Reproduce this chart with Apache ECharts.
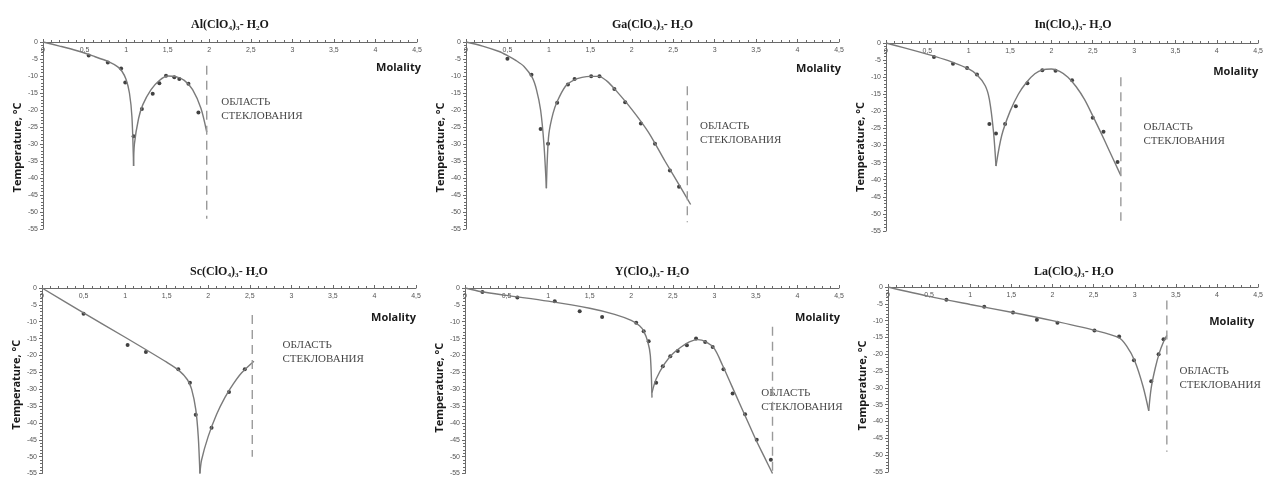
<!DOCTYPE html>
<html>
<head>
<meta charset="utf-8">
<script src="https://cdn.jsdelivr.net/npm/echarts@6/dist/echarts.min.js"></script>
<style>
html,body{margin:0;padding:0;background:#fff;}
#chart{width:1266px;height:477px;}
</style>
</head>
<body>
<div id="chart"></div>
<script>
// ---------- axis ticks ----------
var xTicks = [0, 0.5, 1, 1.5, 2, 2.5, 3, 3.5, 4, 4.5];
var yTicks = [0, -5, -10, -15, -20, -25, -30, -35, -40, -45, -50, -55];

// ---------- titles ----------
var titles = ['Al(ClO₄)₃- H₂O', 'Ga(ClO₄)₃- H₂O', 'In(ClO₄)₃- H₂O',
              'Sc(ClO₄)₃- H₂O', 'Y(ClO₄)₃- H₂O', 'La(ClO₄)₃- H₂O'];
var glassText = 'ОБЛАСТЬ\nСТЕКЛОВАНИЯ';
var xName = 'Molality';
var yName = 'Temperature, °C';

// ---------- Al(ClO4)3 ----------
var alCurve1 = [[0,0],[0.2,-1.2],[0.4,-2.5],[0.6,-4.1],[0.8,-5.9],[0.9,-7.3],[0.95,-8.6],[1.0,-11],[1.04,-15],[1.07,-22],[1.09,-36.5]];
var alCurve2 = [[1.09,-36.5],[1.1,-30],[1.15,-22.5],[1.2,-18.5],[1.3,-14],[1.4,-11.3],[1.5,-10],[1.6,-10.2],[1.7,-11.3],[1.8,-14],[1.9,-19.5],[1.97,-26.5]];
var alPoints = [[0.55,-4],[0.78,-6],[0.94,-7.8],[0.99,-11.9],[1.09,-27.7],[1.19,-19.7],[1.32,-15.2],[1.40,-12.1],[1.48,-9.9],[1.58,-10.4],[1.64,-10.9],[1.75,-12.3],[1.87,-20.7]];
var alGlass = [[1.97,-7],[1.97,-52]];
var alText = [2.15,-15.8];

// ---------- Ga(ClO4)3 ----------
var gaCurve1 = [[0,0],[0.2,-1.2],[0.4,-2.8],[0.5,-4],[0.6,-5.4],[0.7,-7.2],[0.8,-10.5],[0.85,-14],[0.9,-20],[0.94,-30],[0.97,-43]];
var gaCurve2 = [[0.97,-43],[0.98,-35],[1.0,-27],[1.05,-21],[1.1,-17.5],[1.2,-13],[1.3,-11.2],[1.4,-10.4],[1.5,-10.1],[1.6,-10.1],[1.7,-11.5],[1.8,-14],[2.0,-19.8],[2.2,-26.5],[2.4,-35],[2.6,-43.2],[2.71,-47.8]];
var gaPoints = [[0.5,-4.9],[0.79,-9.6],[0.90,-25.6],[0.99,-29.9],[1.10,-17.9],[1.23,-12.5],[1.31,-10.9],[1.51,-10.1],[1.61,-10.1],[1.79,-13.8],[1.92,-17.7],[2.11,-24],[2.28,-29.9],[2.46,-37.8],[2.57,-42.6]];
var gaGlass = [[2.67,-13],[2.67,-53]];
var gaText = [2.83,-22.7];

// ---------- In(ClO4)3 ----------
var inCurve1 = [[0,0],[0.2,-1.3],[0.4,-2.6],[0.6,-4],[0.8,-5.6],[1.0,-7.6],[1.1,-9.3],[1.2,-12.5],[1.25,-16.5],[1.3,-26],[1.33,-36]];
var inCurve2 = [[1.33,-36],[1.4,-27],[1.5,-20],[1.6,-15],[1.7,-11.5],[1.8,-9],[1.9,-7.8],[2.0,-7.6],[2.1,-8.3],[2.2,-10],[2.3,-12.8],[2.4,-16.5],[2.5,-21.3],[2.6,-26.3],[2.7,-31.5],[2.84,-38.8]];
var inPoints = [[0.58,-4.1],[0.81,-6.1],[0.98,-7.3],[1.10,-9.2],[1.25,-23.7],[1.33,-26.5],[1.44,-23.7],[1.57,-18.5],[1.71,-11.8],[1.89,-8],[2.05,-8.1],[2.25,-10.9],[2.50,-21.9],[2.63,-26],[2.80,-34.8]];
var inGlass = [[2.84,-10],[2.84,-52]];
var inText = [3.12,-22.8];

// ---------- Sc(ClO4)3 ----------
var scCurve1 = [[0,0],[0.5,-7.4],[1.0,-14.6],[1.5,-22],[1.65,-24.5],[1.75,-27.2],[1.8,-30],[1.85,-36],[1.88,-44],[1.9,-55]];
var scCurve2 = [[1.9,-55],[1.92,-51],[2.0,-44],[2.1,-37.5],[2.2,-32.5],[2.3,-28.5],[2.4,-25.2],[2.55,-21.7]];
var scPoints = [[0.50,-7.6],[1.03,-16.9],[1.25,-19],[1.64,-24.1],[1.78,-28.1],[1.85,-37.6],[2.04,-41.4],[2.25,-30.8],[2.44,-24.1]];
var scGlass = [[2.53,-8],[2.53,-50]];
var scText = [2.90,-15.1];

// ---------- Y(ClO4)3 ----------
var yCurve1 = [[0,0],[0.2,-1.1],[0.5,-2.2],[1.0,-3.9],[1.5,-6],[1.8,-7.8],[2.0,-9.6],[2.1,-11.2],[2.15,-12.8],[2.2,-16],[2.23,-20],[2.25,-32.5]];
var yCurve2 = [[2.25,-31],[2.3,-27],[2.4,-22.5],[2.5,-19.5],[2.6,-17.5],[2.7,-16],[2.8,-15.3],[2.9,-16],[3.0,-18],[3.1,-23],[3.2,-28.5],[3.3,-34],[3.4,-39.5],[3.5,-45],[3.6,-50],[3.7,-55]];
var yPoints = [[0.21,-1.2],[0.63,-2.8],[1.08,-3.9],[1.38,-6.9],[1.65,-8.6],[2.06,-10.3],[2.15,-12.8],[2.21,-15.8],[2.30,-28.1],[2.38,-23.2],[2.47,-20.2],[2.56,-18.7],[2.67,-17],[2.78,-15],[2.89,-16],[2.98,-17.5],[3.11,-24.1],[3.22,-31.3],[3.37,-37.4],[3.51,-45],[3.68,-50.9]];
var yGlass = [[3.70,-11.5],[3.70,-55]];
var yText = [3.57,-29.2];

// ---------- La(ClO4)3 ----------
var laCurve1 = [[0,0],[0.5,-2.8],[1.0,-5.2],[1.5,-7.5],[2.0,-10],[2.5,-12.8],[2.8,-15],[2.9,-17.5],[3.0,-22],[3.1,-29.5],[3.17,-36.8]];
var laCurve2 = [[3.17,-36.8],[3.2,-30],[3.25,-24],[3.3,-19.5],[3.35,-16.3],[3.39,-14.4]];
var laPoints = [[0.71,-3.8],[1.17,-5.9],[1.52,-7.6],[1.81,-9.7],[2.06,-10.6],[2.51,-12.9],[2.81,-14.7],[2.99,-21.8],[3.20,-28],[3.29,-20],[3.35,-15.5]];
var laGlass = [[3.39,-4],[3.39,-49]];
var laText = [3.55,-23.1];

// ---------- build ----------
var panels = [
  {c1:alCurve1,c2:alCurve2,p:alPoints,g:alGlass,t:alText},
  {c1:gaCurve1,c2:gaCurve2,p:gaPoints,g:gaGlass,t:gaText},
  {c1:inCurve1,c2:inCurve2,p:inPoints,g:inGlass,t:inText},
  {c1:scCurve1,c2:scCurve2,p:scPoints,g:scGlass,t:scText},
  {c1:yCurve1,c2:yCurve2,p:yPoints,g:yGlass,t:yText},
  {c1:laCurve1,c2:laCurve2,p:laPoints,g:laGlass,t:laText}
];
var layout = [
  {left:43,top:42,width:374,height:187,mTop:27,mRight:4,yShift:24},
  {left:466,top:42,width:373,height:187,mTop:28,mRight:2,yShift:24},
  {left:886,top:43,width:374,height:188,mTop:30,mRight:0,yShift:20},
  {left:42,top:288,width:374,height:186,mTop:31,mRight:0,yShift:8},
  {left:465,top:288,width:374,height:186,mTop:31,mRight:1,yShift:14},
  {left:888,top:287,width:372,height:185,mTop:36,mRight:-4,yShift:12}
];
var titleY = [14, 14, 14, 261, 261, 261];

var axisColor = '#6a6a6a';
var grids = [], xAxes = [], yAxes = [], series = [], titleArr = [];
var minX = xTicks[0], maxX = xTicks[xTicks.length-1];
var minY = yTicks[yTicks.length-1], maxY = yTicks[0];

layout.forEach(function(L, i){
  grids.push({left:L.left, top:L.top, width:L.width, height:L.height});
  titleArr.push({
    text: titles[i], left: L.left + L.width/2 - 5, top: titleY[i], textAlign: 'center',
    textStyle: {fontFamily: '"Liberation Serif","DejaVu Serif",serif', fontWeight: 'bold', fontSize: 12, color: '#1a1a1a'}
  });
  xAxes.push({
    gridIndex: i, type: 'value', position: 'top', min: minX, max: maxX, interval: 0.5,
    name: xName, nameLocation: 'end', nameGap: L.mRight,
    nameTextStyle: {fontFamily: '"Open Sans",sans-serif', fontWeight: 'bold', fontSize: 11, color: '#1a1a1a',
      align: 'right', verticalAlign: 'top', padding: [L.mTop - 7, 0, 0, 0]},
    axisLine: {show: true, onZero: false, lineStyle: {color: axisColor, width: 1}},
    axisTick: {show: true, inside: false, length: 3, lineStyle: {color: axisColor}},
    minorTick: {show: true, splitNumber: 5, length: 2, lineStyle: {color: axisColor}},
    axisLabel: {inside: true, margin: 5, fontSize: 7, color: '#555', fontFamily: '"Liberation Sans",sans-serif',
      formatter: function(v){ return String(v).replace('.', ','); }},
    splitLine: {show: false}
  });
  yAxes.push({
    gridIndex: i, type: 'value', position: 'left', min: minY, max: maxY, interval: 5,
    name: yName, nameLocation: 'middle', nameGap: 20,
    nameTextStyle: {fontFamily: '"Open Sans",sans-serif', fontWeight: 'bold', fontSize: 11, color: '#1a1a1a',
      padding: [0, L.yShift, 0, 0]},
    axisLine: {show: true, onZero: false, lineStyle: {color: axisColor, width: 1}},
    axisTick: {show: true, length: 3, lineStyle: {color: axisColor}},
    minorTick: {show: true, splitNumber: 5, length: 2, lineStyle: {color: axisColor}},
    axisLabel: {margin: 5, fontSize: 7, color: '#555', fontFamily: '"Liberation Sans",sans-serif'},
    splitLine: {show: false}
  });
  var P = panels[i];
  var lineCommon = {type: 'line', xAxisIndex: i, yAxisIndex: i, smooth: 0.3,
    showSymbol: false, symbol: 'none', silent: true, clip: false,
    lineStyle: {color: '#7a7a7a', width: 1.4}};
  series.push(Object.assign({}, lineCommon, {data: P.c1}));
  series.push(Object.assign({}, lineCommon, {data: P.c2}));
  series.push({type: 'scatter', xAxisIndex: i, yAxisIndex: i, data: P.p, symbol: 'circle', symbolSize: 4,
    itemStyle: {color: '#111'}, silent: true});
  series.push({type: 'line', xAxisIndex: i, yAxisIndex: i, data: P.g, symbol: 'none', silent: true,
    lineStyle: {color: '#9a9a9a', width: 1.4, type: [9, 6]}});
  series.push({type: 'scatter', xAxisIndex: i, yAxisIndex: i, data: [P.t], symbol: 'circle', symbolSize: 1,
    itemStyle: {color: 'rgba(0,0,0,0)'}, silent: true, clip: false,
    label: {show: true, position: [0, 0], align: 'left', verticalAlign: 'top',
      formatter: glassText, fontFamily: '"Liberation Serif","DejaVu Serif",serif', fontSize: 11,
      lineHeight: 14, color: '#111'}});
});

var chart = echarts.init(document.getElementById('chart'), null, {renderer: 'canvas'});
chart.setOption({
  animation: false,
  backgroundColor: '#fff',
  title: titleArr,
  grid: grids,
  xAxis: xAxes,
  yAxis: yAxes,
  series: series
});
</script>
</body>
</html>
